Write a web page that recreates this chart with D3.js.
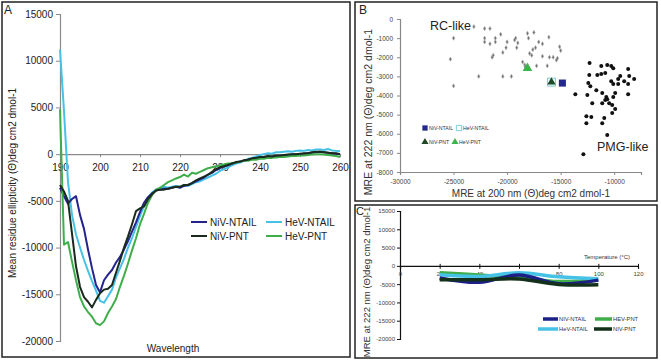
<!DOCTYPE html>
<html>
<head>
<meta charset="utf-8">
<script src="https://cdn.jsdelivr.net/npm/d3@7"></script>
<style>
body { margin: 0; background: #fff; }
svg { display: block; font-family: "Liberation Sans", Arial, sans-serif; }
</style>
</head>
<body>
<div id="chart"></div>
<script>
// ---- panel A : CD spectra ----
var wavelengths = [190,191,192,193,194,195,196,197,198,199,
  200,201,202,203,204,205,206,207,208,209,
  210,211,212,213,214,215,216,217,218,219,
  220,221,222,223,224,225,226,227,228,229,
  230,231,232,233,234,235,236,237,238,239,
  240,241,242,243,244,245,246,247,248,249,
  250,251,252,253,254,255,256,257,258,259,260];

var hevNtail = [11200,4600,-3000,-6500,-8600,-10000,-11300,-12500,-13600,-14600,
  -15700,-15900,-15200,-14500,-13200,-12200,-11200,-10000,-9000,-7800,
  -6600,-5600,-4700,-4100,-3800,-3700,-3500,-3600,-3500,-3400,
  -3500,-3300,-3400,-3200,-3000,-2900,-2700,-2500,-2300,-2100,
  -1800,-1600,-1400,-1200,-1000,-900,-700,-500,-400,-250,
  -100,0,100,50,200,200,250,300,250,350,
  400,350,450,400,500,500,450,550,400,350,300];

var nivNtail = [-3600,-4500,-5300,-4800,-4500,-6500,-8000,-10200,-12200,-14000,
  -14800,-13500,-12900,-12400,-11600,-11000,-10200,-9300,-8300,-7300,
  -6200,-5200,-4600,-4200,-3900,-3800,-3700,-3700,-3600,-3500,
  -3600,-3400,-3300,-3100,-2900,-2700,-2500,-2200,-2000,-1700,
  -1500,-1300,-1200,-1000,-900,-800,-700,-600,-500,-400,
  -350,-300,-250,-250,-200,-200,-150,-100,-50,0,
  0,50,100,150,200,250,200,150,100,50,0];

var nivPnt = [-3300,-4000,-5000,-8500,-12000,-14200,-15300,-15800,-16400,-15600,
  -14900,-14500,-14400,-14000,-12700,-11400,-10000,-8800,-7500,-6100,
  -5800,-5600,-4800,-4300,-3900,-3800,-3800,-3700,-3600,-3500,
  -3500,-3300,-3300,-3100,-2800,-2600,-2400,-2200,-1900,-1600,
  -1400,-1300,-1150,-1000,-850,-800,-650,-600,-450,-400,
  -300,-300,-200,-250,-150,-150,-100,-50,0,0,
  50,100,100,200,250,250,200,150,100,100,0];

var hevPnt = [4800,-9700,-9400,-11500,-13500,-15300,-16300,-16900,-17400,-18100,
  -18300,-17900,-17000,-16300,-15500,-14200,-13000,-11700,-10300,-9000,
  -7500,-6400,-5200,-4400,-3800,-3600,-3300,-3000,-2800,-2600,
  -2450,-2200,-2400,-2000,-2100,-1900,-1700,-1500,-1400,-1300,
  -1200,-1100,-1000,-1000,-900,-800,-700,-700,-600,-600,
  -500,-500,-400,-400,-350,-300,-300,-250,-200,-200,
  -150,-150,-100,-50,0,0,-50,-100,-150,-200,-300];

var aTicksX = [190,200,210,220,230,240,250,260];
var aTicksY = [-20000,-15000,-10000,-5000,0,5000,10000,15000];

// ---- panel B : 200 nm vs 222 nm scatter ----
var rcX = [-25000,-25300,-25000,-23100,-22100,-21600,-22100,-22100,-21600,-21100,
  -21100,-20600,-20000,-20100,-19200,-19300,-19100,-21300,-21400,-20400,
  -22650,-20400,-19600,-18100,-17500,-18000,-19000,-17050,-16700,-17350,
  -17600,-17900,-16100,-15100,-15000,-16700,-16050,-15700,-15300,-15400,
  -16250,-17250,-18550,-18350,-18300,-17700];
var rcY = [-1000,-2100,-3500,-400,-500,-500,-1000,-1200,-1300,-1000,
  -1200,-800,-1200,-1500,-1000,-1100,-1500,-1900,-2000,-1750,
  -3000,-3000,-3000,-750,-700,-1000,-1250,-1200,-1300,-1500,
  -1600,-1800,-950,-1450,-1650,-1950,-2000,-2000,-2050,-2150,
  -2450,-2450,-2250,-2400,-2500,-1900];

var pmgX = [-12300,-11210,-10650,-10280,-10090,-8700,-12330,-11580,-11210,-10840,
  -9440,-9630,-10280,-10090,-9630,-9070,-8700,-8140,-12420,-12230,
  -11670,-13630,-12510,-11120,-10740,-10650,-10840,-10090,-9910,-8700,
  -12050,-11120,-10470,-10190,-9910,-10190,-12600,-12140,-10930,-12600,
  -11120,-10650,-12880,-8600];
var pmgY = [-2300,-2460,-2410,-2460,-2570,-2620,-2930,-2930,-2880,-2830,
  -2980,-3140,-3250,-3400,-3400,-3250,-3400,-3140,-3350,-3510,
  -3720,-3930,-3980,-3870,-4080,-4190,-4240,-4080,-3870,-3930,
  -4400,-4400,-4400,-4500,-4710,-4920,-5080,-5130,-5180,-5450,
  -5450,-6070,-7070,-2980];

var sampleNames = ["NiV-NTAIL", "HeV-NTAIL", "NiV-PNT", "HeV-PNT"];
var sampleX200 = [-14840, -15860, -15860, -18100];
var sampleY222 = [-3350, -3300, -3300, -2570];

var bTicksX = [-30000,-25000,-20000,-15000,-10000];
var bTicksY = [0,-1000,-2000,-3000,-4000,-5000,-6000,-7000,-8000];

// ---- panel C : thermal denaturation ----
var temps = [20, 40, 60, 80, 100];
var cNivNtail = [-3300, -4500, -2500, -4900, -3900];
var cHevNtail = [-2450, -2900, -1900, -3000, -3500];
var cHevPnt = [-1900, -2500, -3300, -4300, -3800];
var cNivPnt = [-3800, -3800, -3600, -5100, -5200];
var cTicksX = [0, 20, 40, 60, 80, 100, 120];
var cTicksY = [-20000,-15000,-10000,-5000,0,5000,10000,15000];

var colNivNtail = "#25238c", colHevNtail = "#45c2e6", colNivPnt = "#1a2a1c", colHevPnt = "#3fae4a";
var fmt = function(d){ return String(d); };   // plain hyphen minus, like the original

var svg = d3.select("#chart").append("svg")
  .attr("width", 661).attr("height", 362);

// panel frames
svg.append("rect").attr("x", 2).attr("y", 2).attr("width", 348).attr("height", 355)
  .attr("fill", "none").attr("stroke", "#222").attr("stroke-width", 1.5);
svg.append("rect").attr("x", 355).attr("y", 2).attr("width", 302).attr("height", 199)
  .attr("fill", "none").attr("stroke", "#222").attr("stroke-width", 1.5);
svg.append("rect").attr("x", 355).attr("y", 205).attr("width", 302).attr("height", 153)
  .attr("fill", "none").attr("stroke", "#222").attr("stroke-width", 1.5);

function styleAxis(g, col, fs, tcol){
  g.select(".domain").attr("stroke", col).attr("stroke-width", 1.2);
  g.selectAll(".tick line").attr("stroke", col);
  g.selectAll(".tick text").attr("fill", tcol).style("font-size", fs + "px")
    .style("font-family", '"Liberation Sans", Arial, sans-serif');
}

// ================= A =================
var xA = d3.scaleLinear().domain([190, 260]).range([60, 340]);
var yA = d3.scaleLinear().domain([-20000, 15000]).range([341, 14]);

var gA = svg.append("g");
var yAxA = gA.append("g").attr("transform", "translate(60,0)")
  .call(d3.axisLeft(yA).tickValues(aTicksY).tickSize(4).tickPadding(3).tickFormat(fmt));
styleAxis(yAxA, "#8a8a8a", 10, "#222");
var xAxA = gA.append("g").attr("transform", "translate(0," + yA(0) + ")")
  .call(d3.axisBottom(xA).tickValues(aTicksX).tickSize(3).tickPadding(7).tickFormat(fmt));
styleAxis(xAxA, "#8a8a8a", 10, "#222");

var lineA = d3.line().x(function(d){ return xA(d[0]); }).y(function(d){ return yA(d[1]); });
var seriesA = [
  {name: "HeV-NTAIL", vals: hevNtail, col: colHevNtail},
  {name: "NiV-NTAIL", vals: nivNtail, col: colNivNtail},
  {name: "HeV-PNT", vals: hevPnt, col: colHevPnt},
  {name: "NiV-PNT", vals: nivPnt, col: colNivPnt}
];
seriesA.forEach(function(s){
  gA.append("path")
    .datum(wavelengths.map(function(w, i){ return [w, s.vals[i]]; }))
    .attr("d", lineA).attr("fill", "none")
    .attr("stroke", s.col).attr("stroke-width", 2).attr("stroke-linejoin", "round");
});

gA.append("text").attr("x", 4).attr("y", 14).text("A")
  .style("font-size", "12px").attr("fill", "#222");
gA.append("text").attr("x", 173).attr("y", 352).attr("text-anchor", "middle")
  .text("Wavelength").style("font-size", "10px").attr("fill", "#222");
gA.append("text").attr("transform", "translate(16,183) rotate(-90)")
  .attr("text-anchor", "middle")
  .text("Mean residue ellipticity (Θ)deg cm2 dmol-1")
  .style("font-size", "10px").attr("fill", "#222");

// legend A
var legA = [
  {name: "NiV-NTAIL", col: colNivNtail, x: 191, y: 222},
  {name: "HeV-NTAIL", col: colHevNtail, x: 266, y: 222},
  {name: "NiV-PNT", col: colNivPnt, x: 191, y: 236},
  {name: "HeV-PNT", col: colHevPnt, x: 266, y: 236}
];
legA.forEach(function(l){
  gA.append("line").attr("x1", l.x).attr("x2", l.x + 16).attr("y1", l.y).attr("y2", l.y)
    .attr("stroke", l.col).attr("stroke-width", 2);
  gA.append("text").attr("x", l.x + 19).attr("y", l.y + 3.5).text(l.name)
    .style("font-size", "10px").attr("fill", "#222");
});

// ================= B =================
var xB = d3.scaleLinear().domain([-30000, -7500]).range([400, 641]);
var yB = d3.scaleLinear().domain([-8000, 0]).range([172, 19]);
var gB = svg.append("g");

var yAxB = gB.append("g").attr("transform", "translate(400,0)")
  .call(d3.axisLeft(yB).tickValues(bTicksY).tickSize(3).tickPadding(4).tickFormat(fmt));
styleAxis(yAxB, "#888", 6.5, "#444");
var xAxB = gB.append("g").attr("transform", "translate(0,172)")
  .call(d3.axisBottom(xB).tickValues(bTicksX).tickSize(3).tickPadding(4).tickFormat(fmt));
styleAxis(xAxB, "#888", 6.5, "#444");

var diamond = d3.symbol().type(d3.symbolDiamond).size(5);
gB.selectAll(".rc").data(rcX).enter().append("path")
  .attr("transform", function(d, i){ return "translate(" + xB(d) + "," + yB(rcY[i]) + ")"; })
  .attr("d", diamond).attr("fill", "#6e6e6e").attr("stroke", "#aaa").attr("stroke-width", 0.6);

gB.selectAll(".pmg").data(pmgX).enter().append("circle")
  .attr("cx", function(d){ return xB(d); })
  .attr("cy", function(d, i){ return yB(pmgY[i]); })
  .attr("r", 2).attr("fill", "#111");

var sq = d3.symbol().type(d3.symbolSquare);
var tri = d3.symbol().type(d3.symbolTriangle);
// HeV-NTAIL open square
gB.append("path").attr("transform", "translate(" + xB(sampleX200[1]) + "," + yB(sampleY222[1]) + ")")
  .attr("d", sq.size(64)()).attr("fill", "#eefafa").attr("stroke", "#7ccfd6").attr("stroke-width", 1);
// NiV-NTAIL filled square
gB.append("path").attr("transform", "translate(" + xB(sampleX200[0]) + "," + yB(sampleY222[0]) + ")")
  .attr("d", sq.size(50)()).attr("fill", "#232a8a");
// NiV-PNT triangle
gB.append("path").attr("transform", "translate(" + xB(sampleX200[2]) + "," + yB(sampleY222[2]) + ")")
  .attr("d", tri.size(30)()).attr("fill", "#1d4a26");
// HeV-PNT triangle
gB.append("path").attr("transform", "translate(" + xB(sampleX200[3]) + "," + yB(sampleY222[3]) + ")")
  .attr("d", tri.size(40)()).attr("fill", "#3bb54a");

gB.append("text").attr("x", 359).attr("y", 14).text("B")
  .style("font-size", "12px").attr("fill", "#222");
gB.append("text").attr("x", 430).attr("y", 30).text("RC-like")
  .style("font-size", "12.5px").attr("fill", "#222");
gB.append("text").attr("x", 597).attr("y", 151).text("PMG-like")
  .style("font-size", "12.5px").attr("fill", "#222");
gB.append("text").attr("x", 531).attr("y", 197).attr("text-anchor", "middle")
  .text("MRE at 200 nm (Θ)deg cm2 dmol-1").style("font-size", "10px").attr("fill", "#333");
gB.append("text").attr("transform", "translate(372,112) rotate(-90)").attr("text-anchor", "middle")
  .text("MRE at 222 nm (Θ)deg cm2 dmol-1").style("font-size", "10.5px").attr("fill", "#333");

// legend B
var legB = [
  {name: "NiV-NTAIL", x: 425, y: 128, d: sq.size(28)(), fill: "#232a8a", stroke: "none"},
  {name: "HeV-NTAIL", x: 459, y: 128, d: sq.size(28)(), fill: "#fff", stroke: "#7ccfd6"},
  {name: "NiV-PNT", x: 425, y: 142, d: tri.size(22)(), fill: "#1d4a26", stroke: "none"},
  {name: "HeV-PNT", x: 455, y: 142, d: tri.size(22)(), fill: "#3bb54a", stroke: "none"}
];
legB.forEach(function(l){
  gB.append("path").attr("transform", "translate(" + l.x + "," + l.y + ")").attr("d", l.d)
    .attr("fill", l.fill).attr("stroke", l.stroke);
  gB.append("text").attr("x", l.x + 4).attr("y", l.y + 2).text(l.name)
    .style("font-size", "5.2px").attr("fill", "#333");
});

// ================= C =================
var xC = d3.scaleLinear().domain([0, 120]).range([400, 638]);
var yC = d3.scaleLinear().domain([-20000, 15000]).range([339, 211]);
var gC = svg.append("g");

var yAxC = gC.append("g").attr("transform", "translate(400,0)")
  .call(d3.axisLeft(yC).tickValues(cTicksY).tickSize(3).tickPadding(2).tickFormat(fmt));
styleAxis(yAxC, "#111", 6, "#444");
var xAxC = gC.append("g").attr("transform", "translate(0," + yC(0) + ")")
  .call(d3.axisBottom(xC).tickValues(cTicksX).tickSize(3).tickPadding(3).tickFormat(fmt));
styleAxis(xAxC, "#111", 6, "#444");
xAxC.selectAll(".tick line").attr("y1", -2);

var lineC = d3.line().x(function(d){ return xC(d[0]); }).y(function(d){ return yC(d[1]); })
  .curve(d3.curveCardinal);
var seriesC = [
  {vals: cHevPnt, col: colHevPnt},
  {vals: cHevNtail, col: colHevNtail},
  {vals: cNivNtail, col: "#1b1f86"},
  {vals: cNivPnt, col: "#13301a"}
];
seriesC.forEach(function(s){
  gC.append("path").datum(temps.map(function(t, i){ return [t, s.vals[i]]; }))
    .attr("d", lineC).attr("fill", "none").attr("stroke", s.col).attr("stroke-width", 3.5);
});

gC.append("text").attr("x", 356).attr("y", 215).text("C")
  .style("font-size", "11px").attr("fill", "#222");
gC.append("text").attr("x", 607).attr("y", 259).attr("text-anchor", "middle")
  .text("Temperature (°C)").style("font-size", "6px").attr("fill", "#333");
gC.append("text").attr("transform", "translate(370,282) rotate(-90)").attr("text-anchor", "middle")
  .text("MRE at 222 nm (Θ)deg cm2 dmol-1").style("font-size", "9.5px").attr("fill", "#333");

var legC = [
  {name: "NIV-NTAIL", col: "#1b1f86", x1: 543, x2: 558, y: 319},
  {name: "HEV-PNT", col: colHevPnt, x1: 595, x2: 612, y: 319},
  {name: "HeV-NTAIL", col: colHevNtail, x1: 538, x2: 558, y: 329},
  {name: "NIV-PNT", col: "#13301a", x1: 594, x2: 612, y: 329}
];
legC.forEach(function(l){
  gC.append("line").attr("x1", l.x1).attr("x2", l.x2).attr("y1", l.y).attr("y2", l.y)
    .attr("stroke", l.col).attr("stroke-width", 3.5);
  gC.append("text").attr("x", l.x2 + 1).attr("y", l.y + 2).text(l.name)
    .style("font-size", "5.8px").attr("fill", "#333");
});
</script>
</body>
</html>
